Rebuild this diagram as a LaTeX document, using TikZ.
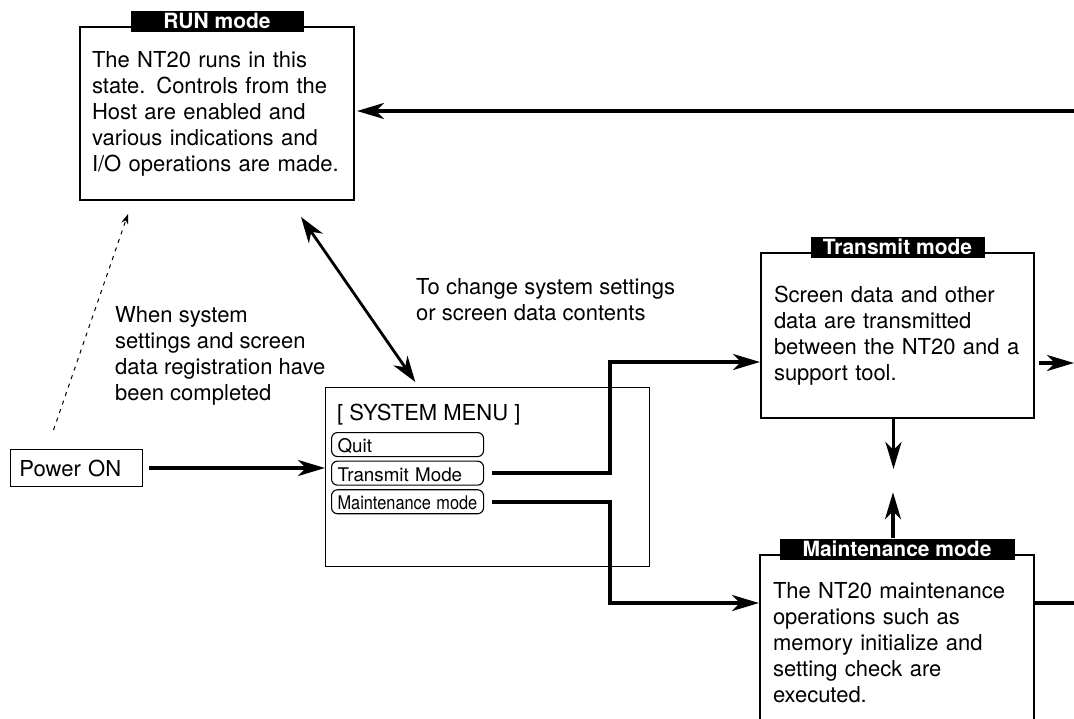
\documentclass[tikz,border=0pt]{standalone}
\usepackage{fontspec}
\setmainfont{TeX Gyre Heros}
\usepackage{graphicx}
\usetikzlibrary{arrows.meta, positioning}

\begin{document}
\begin{tikzpicture}[
        x=1pt, y=-1pt,
        txt/.style={font=\fontsize{22}{26}\selectfont},
        modebox/.style={rectangle, draw=black, line width=2pt, txt, align=left, inner xsep=12pt, anchor=north west},
        titlebar/.style={rectangle, fill=black, text=white, font=\fontsize{21}{24}\selectfont\bfseries, inner sep=0pt, minimum height=21pt, text height=15.5pt, text depth=0pt},
        menubox/.style={rectangle, draw=black, line width=1.3pt, minimum width=324pt, minimum height=179pt, anchor=north west},
        menubtn/.style={rectangle, draw=black, line width=1.1pt, rounded corners=6pt, minimum width=152pt, minimum height=24pt, text width=140pt, inner xsep=6pt, inner ysep=0pt, text height=16pt, text depth=0pt, align=left, font=\fontsize{18.8}{20}\selectfont},
        note/.style={txt, align=left, inner sep=0pt, anchor=base west},
        wire/.style={-{Stealth[length=27pt, width=16pt, inset=8pt]}, line width=3.6pt},
        dblwire/.style={{Stealth[length=26pt, width=17pt, inset=8pt]}-{Stealth[length=26pt, width=17pt, inset=8pt]}, line width=2.8pt},
        dotwire/.style={-{Stealth[length=10pt, width=7pt]}, line width=1pt, dash pattern=on 4pt off 5pt}
    ]
        \useasboundingbox (0,0) rectangle (1074,718);
        \clip (0,0) rectangle (1074,718);

        % mode boxes
        \node[modebox, minimum width=274pt, minimum height=173pt, text width=250pt] (run) at (79,26) {The NT20 runs in this\\state. Controls from the\\Host are enabled and\\various indications and\\I/O operations are made.};
        \node[titlebar, minimum width=173pt] (runT) at ([yshift=5pt]run.north) {RUN mode};

        \node[modebox, minimum width=273pt, minimum height=165pt, text width=247pt, inner xsep=13pt] (tx) at (760,252) {Screen data and other\\data are transmitted\\between the NT20 and a\\support tool.};
        \node[titlebar, minimum width=174pt] (txT) at ([yshift=5pt]tx.north) {Transmit mode};

        \node[modebox, minimum width=274pt, text width=248pt, inner xsep=13pt, inner ysep=27pt] (mt) at (759,554) {The NT20 maintenance\\operations such as\\memory initialize and\\setting check are\\executed.};
        \node[titlebar, minimum width=235pt] (mtT) at ([yshift=5pt]mt.north) {Maintenance mode};

        % power on and system menu
        \node[rectangle, draw, line width=1pt, txt, minimum height=37pt, text width=114pt, inner xsep=9pt, inner ysep=0pt, align=left, anchor=north west] (pwr) at (10,449) {Power ON};

        \node[menubox] (menu) at (325,387) {};
        \node[note] (menuT) at (337,420) {[ SYSTEM MENU ]};
        \node[menubtn, anchor=north west] (btnQ) at (331,432) {Quit};
        \node[menubtn, below=3.5pt of btnQ] (btnT) {Transmit Mode};
        \node[menubtn, below=3.5pt of btnT] (btnM) {\scalebox{0.87}[1]{Maintenance mode}};

        % notes (base = last line)
        \node[note] (cond) at (115,400) {When system\\settings and screen\\data registration have\\been completed};
        \node[note] (chg) at (416,320) {To change system settings\\or screen data contents};

        \coordinate (jT) at (610,362);
        \coordinate (jM) at (610,603);
        \coordinate (back) at (1074,111);
        \coordinate (outT) at (1074,363);
        \coordinate (outM) at (1074,603);

        % connectors
        \draw[wire, shorten <=6pt] (pwr.east) -- (menu.west |- pwr.east);
        \draw[wire, shorten <=8pt] (btnT.east) -| (jT) -- (tx.west |- jT);
        \draw[wire, shorten <=8pt] (btnM.east) -| (jM) -- (mt.west |- jM);
        \draw[wire, shorten <=4pt] (tx.east |- outT) -- (outT);
        \draw[line width=3.6pt] (mt.east |- outM) -- (outM);
        \draw[wire, shorten >=2pt] (back) -- (run.east |- back);
        \draw[wire] ([xshift=-4pt]tx.south) -- ++(0,50);
        \draw[wire] ([xshift=-4pt]mtT.north) -- ++(0,-46);
        \draw[dblwire] ([xshift=-54pt, yshift=-16pt]run.south east) -- ([xshift=-235pt, yshift=5pt]menu.north east);
        \draw[dotwire] ([xshift=-23pt, yshift=19pt]pwr.north) -- ([xshift=49pt, yshift=-13pt]run.south west);
\end{tikzpicture}
\end{document}
